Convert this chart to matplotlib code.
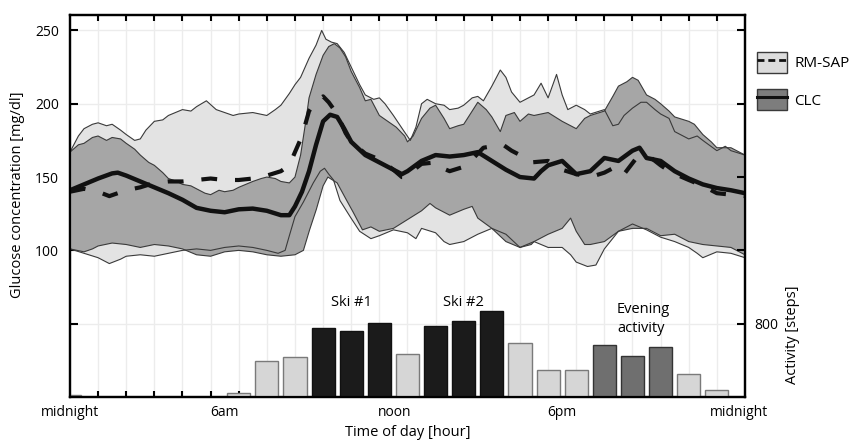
import numpy as np
import matplotlib
matplotlib.use("Agg")
import matplotlib.pyplot as plt
from matplotlib.patches import Patch
from matplotlib.lines import Line2D

plt.rcParams['font.family'] = ['Open Sans', 'DejaVu Sans']

# ---- glucose data (hour of day, mg/dl) ----
rm_up_t = [0, 0.3, 0.5, 0.8, 1, 1.3, 1.5, 1.8, 2, 2.3, 2.5, 2.7, 3, 3.3, 3.5, 4, 4.3, 4.5, 4.85,
           5.2, 5.5, 5.8, 6, 6.5, 7, 7.3, 7.5, 7.8, 8, 8.2, 8.5, 8.75, 8.95, 9.1, 9.3, 9.5, 9.75,
           10, 10.3, 10.5, 10.8, 11, 11.2, 11.5, 11.85, 12.1, 12.3, 12.5, 12.7, 13, 13.3, 13.5,
           13.8, 14, 14.3, 14.5, 14.7, 15, 15.3, 15.5, 15.7, 16, 16.2, 16.5, 16.75, 17, 17.3,
           17.5, 17.7, 18, 18.3, 18.5, 19, 19.3, 19.5, 19.7, 20, 20.3, 20.5, 20.8, 21, 21.3,
           21.5, 22, 22.3, 22.5, 23, 23.3, 23.5, 24]
rm_up = [167, 178, 183, 186, 187, 185, 186, 182, 179, 175, 176, 182, 188, 189, 192, 196, 195, 198, 202,
         196, 194, 192, 193, 194, 192, 196, 199, 207, 213, 218, 231, 240, 250, 244, 242, 241, 235,
         225, 213, 206, 203, 204, 200, 192, 182, 175, 184, 200, 203, 200, 199, 196,
         197, 199, 204, 205, 202, 212, 223, 218, 208, 201, 203, 206, 214, 204, 220,
         206, 196, 199, 196, 193, 196, 185, 186, 192, 197, 201, 201, 196, 193, 190,
         181, 176, 178, 175, 168, 171, 168, 165]

rm_lo_t = [0, 0.5, 1, 1.4, 1.8, 2, 2.5, 3, 3.5, 4, 4.5, 5, 5.5, 6, 6.5, 7, 7.4, 7.65, 7.8, 8,
           8.3, 8.65, 8.9, 9.05, 9.2, 9.37, 9.6, 9.96, 10.3, 10.7, 11, 11.5, 12, 12.3, 12.5, 13,
           13.3, 13.5, 14, 14.5, 15, 15.5, 16, 16.5, 17, 17.5, 17.8, 18, 18.4, 18.7, 19, 19.5,
           20, 20.5, 21, 21.5, 22, 22.3, 22.5, 23, 23.5, 24]
rm_lo = [101, 98, 95, 91, 94, 96, 97, 96, 98, 100, 101, 100, 102, 103, 102, 100, 98, 100, 110, 123,
         133, 146, 154, 156, 152, 148, 134, 123, 113, 108, 110, 114, 112, 108, 115, 112,
         106, 104, 106, 111, 115, 111, 102, 106, 102, 102, 97, 92, 89, 90, 101, 113,
         118, 114, 109, 106, 102, 98, 95, 99, 98, 95]

clc_up_t = [0, 0.3, 0.5, 0.8, 1, 1.3, 1.5, 1.8, 2, 2.3, 2.5, 2.8, 3, 3.3, 3.5, 3.8, 4, 4.3, 4.5,
            4.8, 5, 5.3, 5.5, 5.8, 6, 6.5, 6.8, 7, 7.3, 7.5, 7.8, 8, 8.2, 8.4, 8.5, 8.75, 9, 9.2,
            9.4, 9.6, 9.8, 10, 10.3, 10.5, 10.7, 11, 11.3, 11.6, 11.9, 12, 12.2, 12.5, 12.8, 13,
            13.3, 13.5, 13.8, 14, 14.3, 14.5, 14.8, 15, 15.3, 15.5, 15.8, 16, 16.3, 16.5, 17,
            17.5, 18, 18.3, 18.5, 19, 19.3, 19.5, 19.8, 20, 20.2, 20.5, 20.8, 21, 21.3, 21.5,
            22, 22.2, 22.5, 22.8, 23, 23.5, 24]
clc_up = [167, 172, 173, 177, 178, 175, 177, 176, 173, 169, 165, 160, 158, 153, 149, 147, 145, 144, 142,
          139, 138, 141, 140, 141, 143, 147, 149, 150, 149, 147, 146, 150, 165, 190, 204, 220, 233, 239,
          241, 238, 232, 222, 211, 202, 203, 192, 188, 184, 178, 174, 178, 190, 197, 199,
          190, 183, 185, 186, 195, 201, 196, 191, 181, 192, 194, 188, 193, 192, 194,
          188, 183, 190, 192, 195, 205, 212, 215, 218, 216, 206, 203, 200, 195, 191,
          188, 186, 179, 174, 170, 170, 165]

clc_lo_t = [0, 0.5, 0.8, 1, 1.5, 2, 2.5, 3, 3.5, 4, 4.5, 5, 5.5, 6, 6.5, 7, 7.5, 8, 8.3, 8.52,
            8.76, 9, 9.17, 9.5, 9.84, 10.07, 10.4, 10.7, 11, 11.5, 12, 12.5, 12.8, 13, 13.5, 14,
            14.3, 14.5, 15, 15.5, 16, 16.4, 16.5, 17, 17.5, 17.8, 18, 18.3, 18.5, 19, 19.5, 20,
            20.5, 21, 21.5, 22, 22.5, 23, 23.5, 24]
clc_lo = [101, 99, 101, 103, 105, 104, 102, 104, 103, 101, 97, 96, 99, 100, 99, 97, 96, 97, 100, 114,
          128, 144, 150, 146, 134, 126, 114, 116, 113, 115, 121, 127, 132, 129, 124, 128,
          130, 122, 115, 106, 102, 104, 106, 111, 115, 122, 113, 104, 104, 106, 113, 115,
          115, 110, 111, 106, 104, 103, 102, 97]

# medians
rm_med_t = [0, 0.5, 1, 1.4, 2, 2.5, 3, 3.5, 4, 4.5, 5, 5.5, 6, 6.5, 7, 7.5, 7.8, 8, 8.25, 8.5, 8.75,
            9, 9.2, 9.5, 9.8, 10, 10.5, 11, 11.5, 11.8, 12, 12.3, 12.5, 13, 13.25, 13.5, 14, 14.3,
            14.7, 15, 15.4, 15.7, 16, 16.4, 17, 17.5, 18, 18.5, 19, 19.4, 19.7, 20.1, 20.6, 21,
            21.4, 22, 22.5, 23, 23.5, 24]
rm_med = [140, 142, 140, 137, 141, 143, 146, 147, 147, 148, 149, 148, 148, 149, 151, 154, 158, 167, 178, 195, 202,
          205, 201, 193, 180, 174, 166, 162, 155, 150, 150, 156, 159, 160, 156, 154, 157, 162,
          170, 171, 172, 168, 165, 160, 161, 155, 152, 150, 153, 157, 152, 162, 164, 158,
          153, 148, 144, 139, 138, 137]

clc_med_t = [0, 0.5, 1, 1.5, 1.7, 2, 2.5, 3, 3.5, 4, 4.5, 5, 5.5, 6, 6.5, 7, 7.5, 7.8, 8, 8.25, 8.5,
             8.75, 9, 9.25, 9.5, 9.75, 10, 10.5, 11, 11.5, 11.8, 12, 12.5, 13, 13.5, 14, 14.5, 15,
             15.5, 16, 16.5, 16.75, 17, 17.5, 18, 18.5, 19, 19.5, 20, 20.25, 20.5, 21, 21.5, 22,
             22.5, 23, 23.5, 24]
clc_med = [141, 145, 149, 152.5, 153, 151, 147, 143, 139, 134.5, 129, 127, 126, 128, 128.5, 127, 124, 124, 130, 140, 154,
           172, 188, 192.5, 191, 183, 174, 165, 160, 155, 152, 154, 161, 165, 164, 165, 167, 161,
           155, 150, 149, 154, 158, 161, 152, 154, 163, 161, 168, 170, 163, 161, 154, 149,
           145, 142.5, 141, 139]

# ---- activity data (steps per hour) ----
bar_hours = np.arange(24)
steps = [20, 0, 0, 0, 0, 0, 40, 390, 435, 750, 725, 810, 470, 780, 825, 940,
         590, 300, 300, 570, 445, 545, 255, 75]
bar_kind = ['rest'] * 9 + ['ski'] * 3 + ['rest'] + ['ski'] * 3 + ['rest'] * 3 + ['eve'] * 3 + ['rest'] * 2
kind_color = {'rest': '#d6d6d6', 'ski': '#1b1b1b', 'eve': '#6f6f6f'}
kind_edge = {'rest': '#7a7a7a', 'ski': '#111111', 'eve': '#333333'}

xlabels = ['midnight', '6am', 'noon', '6pm', 'midnight']
xlabel_pos = [0, 5.5, 11.55, 17.5, 23.8]

light = '#e3e3e3'
mid = '#a6a6a6'
edge = '#3a3a3a'

fig = plt.figure(figsize=(8.49, 4.42), dpi=100)
ax = fig.add_axes([0.0824, 0.1018, 0.7951, 0.8642])

# bands
ax.fill(np.r_[rm_up_t, rm_lo_t[::-1]], np.r_[rm_up, rm_lo[::-1]], color=light, lw=0, zorder=2)
ax.fill(np.r_[clc_up_t, clc_lo_t[::-1]], np.r_[clc_up, clc_lo[::-1]], color=mid, lw=0, zorder=3)
for t, g in [(rm_up_t, rm_up), (rm_lo_t, rm_lo), (clc_up_t, clc_up), (clc_lo_t, clc_lo)]:
    ax.plot(t, g, color=edge, lw=0.8, zorder=4)

ax.plot(clc_med_t, clc_med, color='#111111', lw=3.2, zorder=5, solid_capstyle='butt')
ax.plot(rm_med_t, rm_med, color='#111111', lw=3.0, ls=(0, (3.8, 4.3)), zorder=6)

ax.set_xlim(0, 24)
ax.set_ylim(0, 260.5)
ax.set_yticks([50, 100, 150, 200, 250])
ax.set_yticklabels(['', '100', '150', '200', '250'])
ax.set_xticks(xlabel_pos)
ax.set_xticklabels(xlabels)
ax.set_xticks(np.arange(1, 24), minor=True)
ax.tick_params(axis='x', which='major', length=0, pad=5.5, labelsize=10)
ax.tick_params(axis='x', which='minor', direction='in', length=4, width=1.5, top=True, bottom=True)
ax.tick_params(axis='y', direction='in', length=6, width=1.5, pad=8, labelsize=10)
ax.grid(which='minor', axis='x', color='#ececec', lw=1)
ax.grid(which='major', axis='y', color='#ececec', lw=1)
ax.set_axisbelow(True)
for s in ax.spines.values():
    s.set_linewidth(1.6)

# annotations
ax.text(10, 64.5, 'Ski #1', ha='center', va='center', fontsize=10.5)
ax.text(14, 64.5, 'Ski #2', ha='center', va='center', fontsize=10.5)
ax.text(19.45, 53, 'Evening\nactivity', ha='left', va='center', fontsize=10.5, linespacing=1.35)

# activity bars on the right axis
ax2 = ax.twinx()
ax2.bar(bar_hours, steps, width=0.82, color=[kind_color[k] for k in bar_kind],
        edgecolor=[kind_edge[k] for k in bar_kind], lw=1, zorder=2)
ax2.set_ylim(0, 260.5 * 16)
ax2.set_yticks([800, 1600, 2400, 3200, 4000])
ax2.set_yticklabels(['800', '', '', '', ''])
ax2.tick_params(axis='y', direction='in', length=6, width=1.5, pad=7, labelsize=10)
for s in ax2.spines.values():
    s.set_linewidth(1.6)

fig.text(18 / 849, 1 - 195 / 442, 'Glucose concentration [mg/dl]', rotation=90,
         ha='center', va='center', fontsize=10.5)
fig.text(793 / 849, 1 - 335 / 442, 'Activity [steps]', rotation=90,
         ha='center', va='center', fontsize=10.5)
fig.text(408 / 849, 1 - 432 / 442, 'Time of day [hour]', ha='center', va='center', fontsize=10.5)

# legend
h_rm = (Patch(facecolor='#dcdcdc', edgecolor=edge, lw=1),
        Line2D([], [], color='#111111', lw=2, ls=(0, (2.5, 1.4))))
h_clc = (Patch(facecolor='#7d7d7d', edgecolor=edge, lw=1),
         Line2D([], [], color='#111111', lw=2.2))
fig.legend([h_rm, h_clc], ['RM-SAP', 'CLC'], loc='upper left',
           bbox_to_anchor=(757 / 849, 1 - 52 / 442), frameon=False, fontsize=11,
           handlelength=1.95, handleheight=1.7, labelspacing=1.1, handletextpad=0.5,
           borderpad=0, borderaxespad=0)

fig.savefig('out.png', dpi=100)
